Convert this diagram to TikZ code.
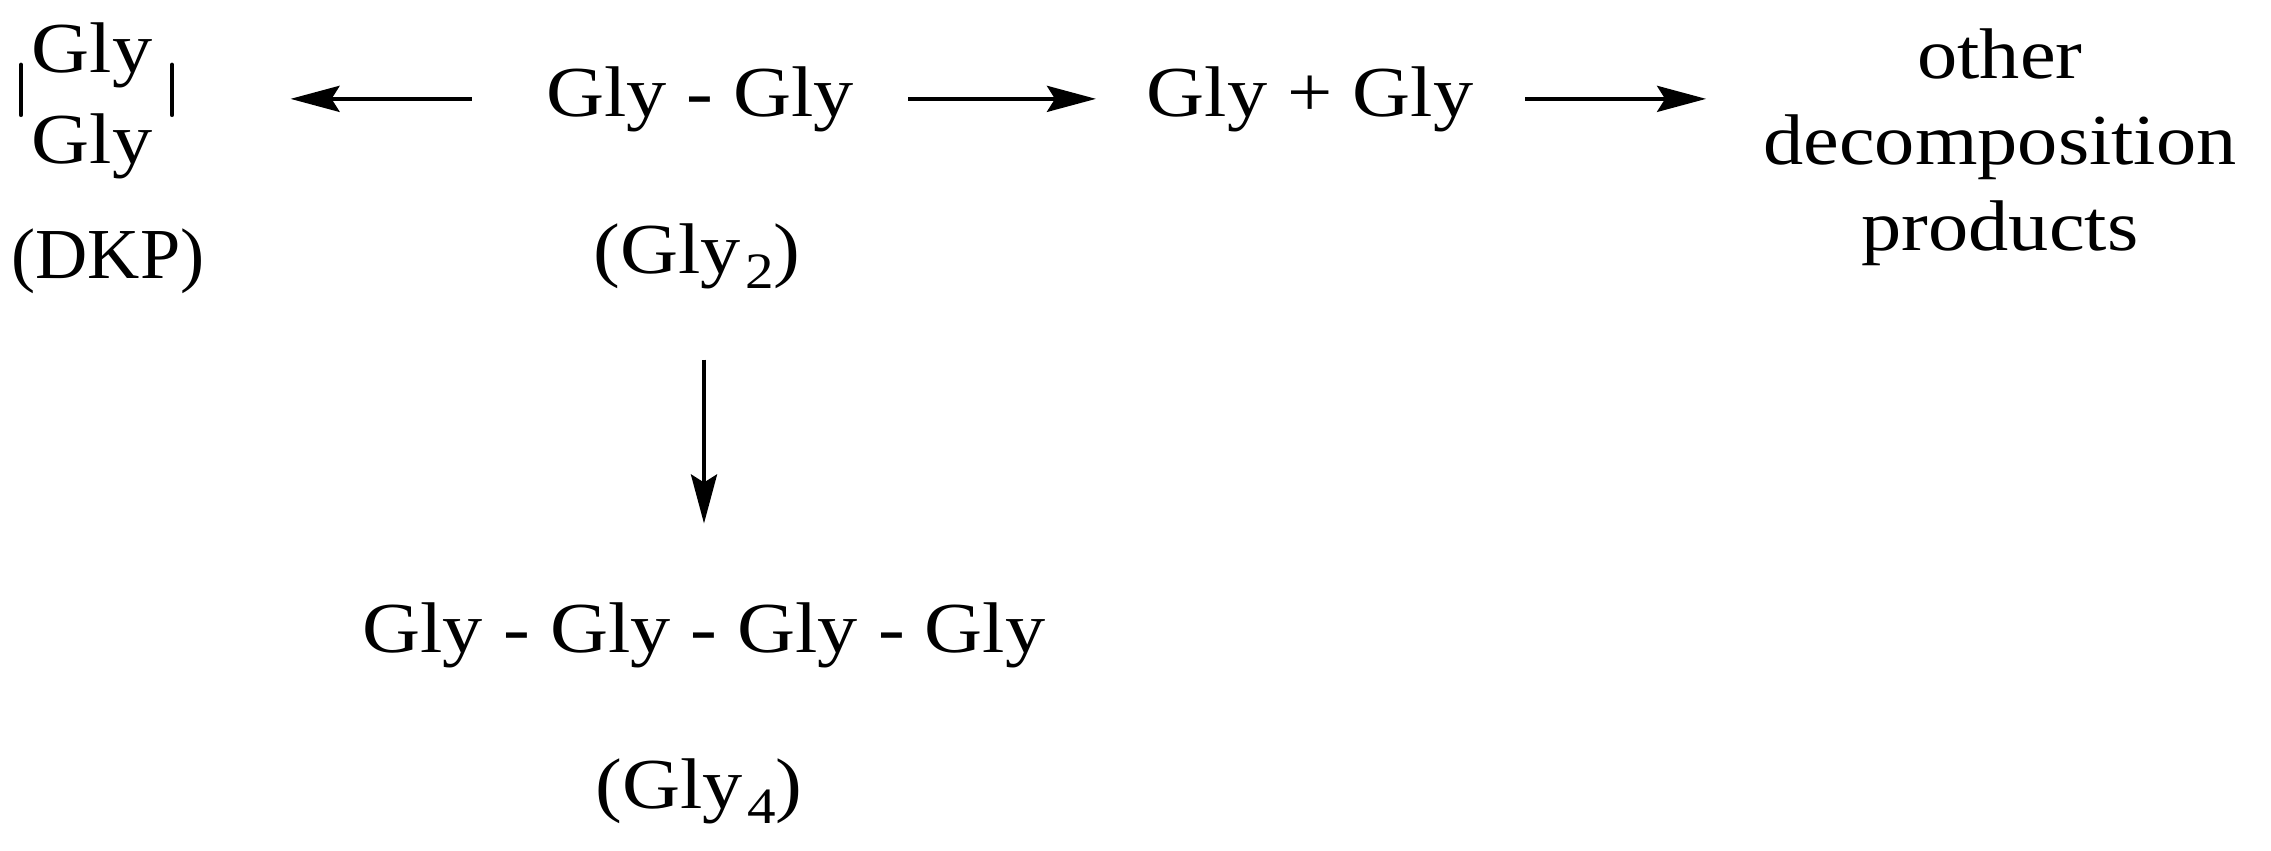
\documentclass[tikz,border=0pt]{standalone}
\usepackage{fontspec}
\setmainfont{Liberation Serif}[FakeStretch=1.12]
\usetikzlibrary{arrows.meta}
\newcommand{\lowsub}[1]{\kern0.06em\raisebox{-4.5pt}{\fontsize{14.5}{14.5}\selectfont #1}}

\begin{document}
\begin{tikzpicture}[x=0.01cm, y=-0.01cm, >={Stealth[length=0.49cm, width=0.26cm, inset=0.08cm]},
  chem/.style={inner sep=0pt, font=\fontsize{20.4}{25}\selectfont},
  rxn/.style={->, line width=0.04cm}]
  \useasboundingbox (0,0) rectangle (2271,850);
  \node[chem, anchor=base] (dimer) at (700,116) {Gly - Gly};
  \node[chem, anchor=base] (dimerlabel) at (697,273) {(Gly\lowsub{2})};
  \node[chem, align=center, font=\fontsize{20.4}{25.8}\selectfont] (dkp) at (92,100.8) {Gly\\Gly};
  \node[chem, anchor=base, xscale=0.9, transform shape] (dkplabel) at (108,278) {(DKP)};
  \node[chem, anchor=base] (monomers) at (1310,116) {Gly + Gly};
  \node[chem, align=center, font=\fontsize{20.4}{24.4}\selectfont] (other) at (2000,147.3) {other\\decomposition\\products};
  \node[chem, anchor=base] (tetramer) at (704,652) {Gly - Gly - Gly - Gly};
  \node[chem, anchor=base] (tetramerlabel) at (699,808) {(Gly\lowsub{4})};
  % ring bars of the diketopiperazine
  \draw[line width=0.045cm, line cap=round] ([shift={(-71,-36)}]dkp.center) -- ([shift={(-71,14)}]dkp.center);
  \draw[line width=0.045cm, line cap=round] ([shift={(80,-36)}]dkp.center) -- ([shift={(80,14)}]dkp.center);
  \draw[rxn, shorten <=0.735cm, shorten >=1.375cm] (dimer.west) -- (dimer.west -| dkp.east);
  \draw[rxn, shorten <=0.535cm, shorten >=0.5cm] (dimer) -- (monomers);
  \draw[rxn, shorten <=0.51cm, shorten >=0.566cm] (monomers.east) -- (monomers.east -| other.west);
  \draw[rxn, shorten <=0.70cm, shorten >=0.78cm] (tetramer.north |- dimerlabel.south) -- (tetramer.north);
\end{tikzpicture}
\end{document}
